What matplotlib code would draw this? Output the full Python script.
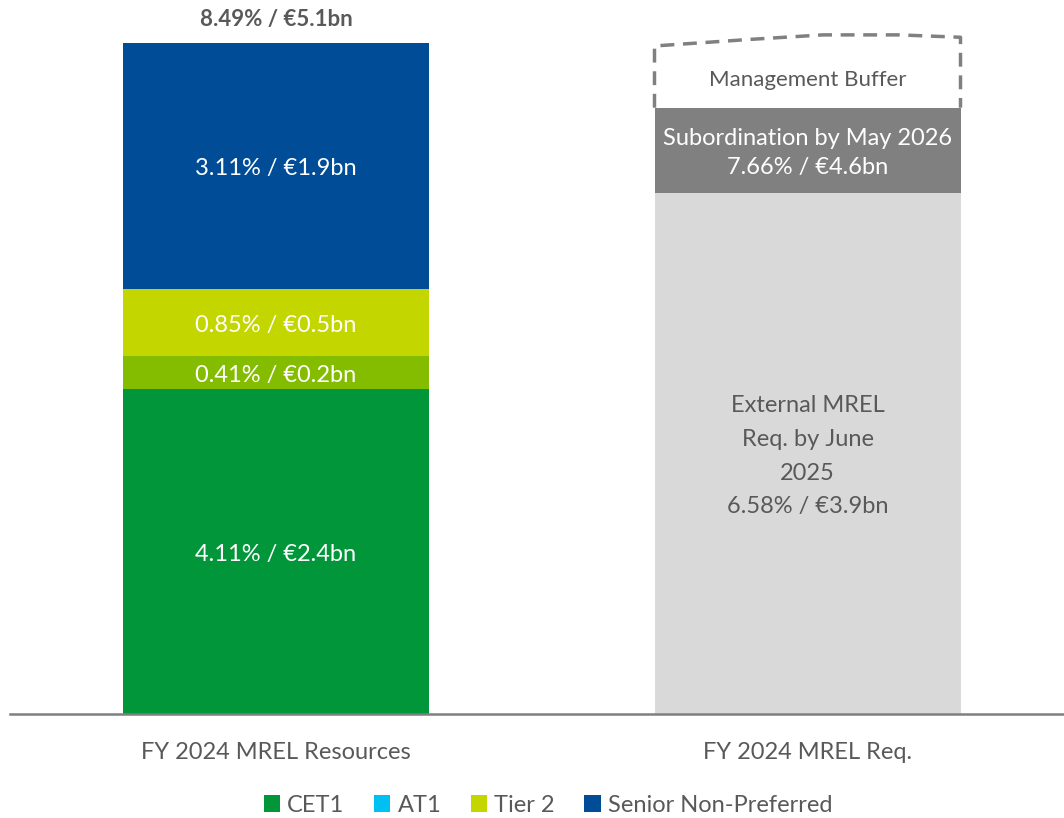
import matplotlib
matplotlib.use("Agg")
import matplotlib.pyplot as plt
from matplotlib.patches import Patch
import numpy as np

plt.rcParams['font.family'] = ['Lato', 'DejaVu Sans']

# ---- data ----
categories = ["FY 2024 MREL Resources", "FY 2024 MREL Req."]
res_labels = ["CET1", "AT1", "Tier 2 (other)", "Tier 2", "Senior Non-Preferred"]
res_values = [4.11, 0.0, 0.41, 0.85, 3.11]
res_text = ["4.11% / €2.4bn", "", "0.41% / €0.2bn", "0.85% / €0.5bn", "3.11% / €1.9bn"]
res_colors = ["#009639", "#00BFF3", "#84BD00", "#C4D600", "#004C97"]
total_text = "8.49% / €5.1bn"
total_value = 8.49

req_external = 6.58
req_subordination = 7.66
req_buffer_top = [8.44, 8.52, 8.58, 8.58, 8.55]   # wavy top of buffer outline
req_buffer_x = [-0.5, -0.2, 0.05, 0.3, 0.5]        # relative to bar width
ext_text = "External MREL\nReq. by June\n2025\n6.58% / €3.9bn"
sub_text = "Subordination by May 2026\n7.66% / €4.6bn"
buf_text = "Management Buffer"

legend_labels = ["CET1", "AT1", "Tier 2", "Senior Non-Preferred"]
legend_colors = ["#009639", "#00BFF3", "#C4D600", "#004C97"]

gray_txt = "#595959"
fs = 17
dy = 0.035  # small downward text nudge

fig = plt.figure(figsize=(10.64, 8.18), dpi=100)
ax = fig.add_axes([10/1064, (818-714)/818, 1054/1064, 714/818])
px_per_unit = 79.15
ax.set_ylim(0, 714/px_per_unit)
ax.set_xlim((10-276)/531.5, (1064-276)/531.5)
width = 306/531.5

# left stacked bar
bottom = 0.0
for v, c, t in zip(res_values, res_colors, res_text):
    if v > 0:
        ax.bar(0, v, width, bottom=bottom, color=c, linewidth=0)
        if t:
            ax.text(0, bottom + v/2 - dy, t, ha='center', va='center', color='white', fontsize=fs)
    bottom += v
ax.text(0, total_value + 0.15, total_text, ha='center', va='bottom',
        color=gray_txt, fontsize=16, fontweight='bold')

# right bar
ax.bar(1, req_external, width, color="#D9D9D9", linewidth=0)
ax.bar(1, req_subordination - req_external, width, bottom=req_external, color="#808080", linewidth=0)
ax.text(1, req_external/2 - dy, ext_text, ha='center', va='center', color=gray_txt,
        fontsize=fs, linespacing=1.75)
ax.text(1, (req_external + req_subordination)/2 - dy, sub_text, ha='center', va='center',
        color='white', fontsize=fs, linespacing=1.45)

# management buffer dashed outline
bx = 1 + np.array(req_buffer_x) * width
xs = np.concatenate([[bx[0]], bx, [bx[-1]]])
ys = np.concatenate([[req_subordination], req_buffer_top, [req_subordination]])
ax.plot(xs, ys, color="#808080", lw=2.5, ls=(0, (4, 2.5)), solid_capstyle='butt')
ax.text(1, (req_subordination + req_buffer_top[0])/2 - dy, buf_text, ha='center', va='center',
        color=gray_txt, fontsize=16)

# axes styling
for s in ['top', 'right', 'left']:
    ax.spines[s].set_visible(False)
ax.spines['bottom'].set_color("#7F7F7F")
ax.spines['bottom'].set_linewidth(1.8)
ax.set_yticks([])
ax.set_xticks([0, 1])
ax.set_xticklabels(categories, fontsize=fs, color=gray_txt)
ax.tick_params(axis='x', length=0, pad=20)

handles = [Patch(facecolor=c, edgecolor='none') for c in legend_colors]
fig.legend(handles, legend_labels, loc='center', bbox_to_anchor=(548/1064, 1 - 805/818),
           ncol=4, frameon=False, fontsize=fs, handlelength=0.7, handleheight=0.7,
           handletextpad=0.3, columnspacing=1.25, labelcolor=gray_txt)

fig.savefig("out.png", dpi=100)
